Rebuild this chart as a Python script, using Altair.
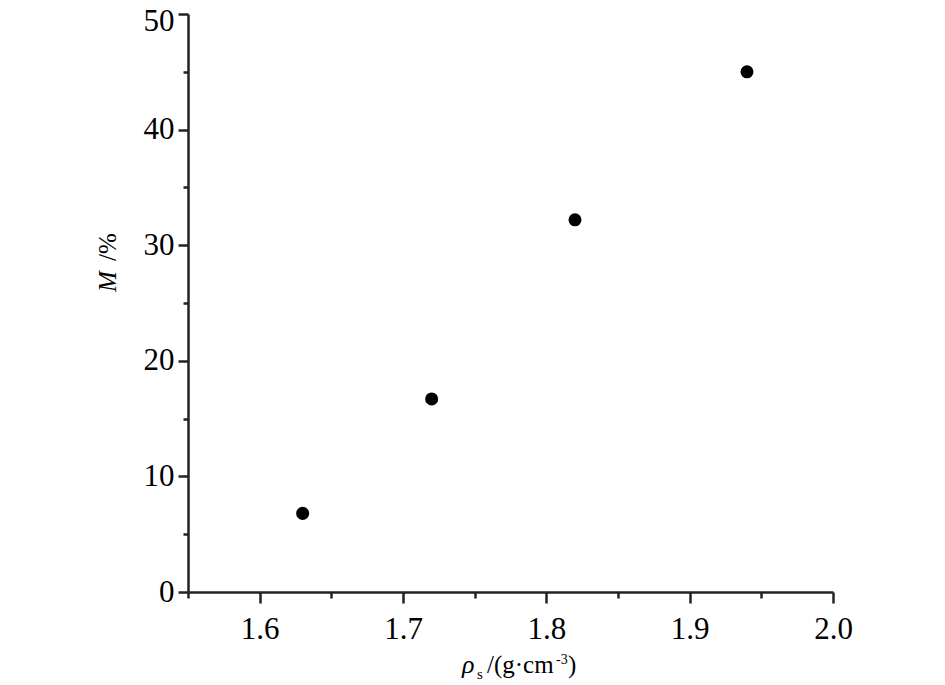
import altair as alt
import pandas as pd

# data
density = [1.63, 1.72, 1.82, 1.94]
porosity = [6.8, 16.7, 32.2, 45.0]

x_major = [1.6, 1.7, 1.8, 1.9, 2.0]
x_minor = [1.55, 1.65, 1.75, 1.85, 1.95]
y_major = [0, 10, 20, 30, 40, 50]
y_minor = [5, 15, 25, 35, 45]

df = pd.DataFrame({"rho": density, "M": porosity})

FONT = "Liberation Serif"
AX = "#1e2426"

xscale = alt.Scale(domain=[1.55, 2.0], nice=False, zero=False)
yscale = alt.Scale(domain=[0, 50], nice=False)

x_major_axis = alt.Axis(values=x_major, format=".1f", title=None, grid=False, orient="bottom",
                        domainColor=AX, domainWidth=2.5, tickColor=AX, tickWidth=2.5,
                        tickSize=11, labelFont=FONT, labelFontSize=31, labelColor="black",
                        labelPadding=11, labelFlush=False)
y_major_axis = alt.Axis(values=y_major, format="d", title=None, grid=False, orient="left",
                        domainColor=AX, domainWidth=2.5, tickColor=AX, tickWidth=2.5,
                        tickSize=10, labelFont=FONT, labelFontSize=31, labelColor="black",
                        labelPadding=4, labelFlush=False,
                        labelOffset={"condition": {"test": "datum.value === 50", "value": 7}, "value": 0})
x_minor_axis = alt.Axis(values=x_minor, labels=False, domain=False, title=None, grid=False,
                        orient="bottom", tickColor=AX, tickWidth=2.5, tickSize=6)
y_minor_axis = alt.Axis(values=y_minor, labels=False, domain=False, title=None, grid=False,
                        orient="left", tickColor=AX, tickWidth=2.5, tickSize=5)

points = alt.Chart(df).mark_circle(size=170, color="black", opacity=1).encode(
    x=alt.X("rho:Q", scale=xscale, axis=x_major_axis),
    y=alt.Y("M:Q", scale=yscale, axis=y_major_axis),
)

minor = alt.Chart(df).mark_circle(opacity=0).encode(
    x=alt.X("rho:Q", scale=xscale, axis=x_minor_axis),
    y=alt.Y("M:Q", scale=yscale, axis=y_minor_axis),
)

# plot-area origin is at page (188, 14)
def txt(s, px, py, size=25, style="normal", angle=0, align="left", baseline="alphabetic"):
    return alt.Chart(pd.DataFrame({"t": [s]})).mark_text(
        font=FONT, fontSize=size, fontStyle=style, color="black",
        align=align, baseline=baseline, angle=angle,
    ).encode(text="t:N", x=alt.value(px - 188), y=alt.value(py - 14))

xtitle = (
    txt("ρ", 462, 673, 26, "italic")
    + txt("s", 477, 679, 15)
    + txt("/(g·cm", 487, 673, 25)
    + txt("-3", 556, 664, 14)
    + txt(")", 568, 673, 25)
)
ytitle = (
    txt("M", 116, 292, 25, "italic", angle=270)
    + txt("/%", 116, 261, 25, "normal", angle=270)
)

chart = alt.layer(points, minor, xtitle, ytitle).resolve_axis(
    x="independent", y="independent"
).properties(
    width=645, height=578,
    background="white",
    autosize=alt.AutoSizeParams(type="none"),
    padding={"left": 180, "top": 6, "right": 100, "bottom": 90},
).configure_view(stroke=None, strokeWidth=0)

chart.save("out.html", embed_options={"renderer": "svg", "actions": False})
